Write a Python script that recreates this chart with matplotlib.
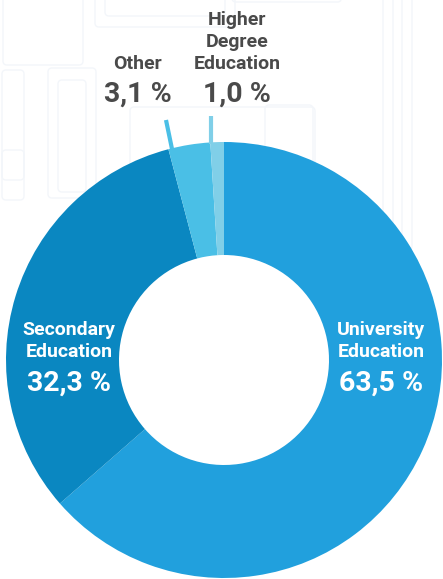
import matplotlib
matplotlib.use("Agg")
import matplotlib.pyplot as plt
from matplotlib.patches import FancyBboxPatch

# Share of graduates by level of education (%)
categories = ["University\nEducation", "Secondary\nEducation", "Other", "Higher\nDegree\nEducation"]
shares = [63.5, 32.3, 3.1, 1.0]
colors = ["#21a0dd", "#0a87c1", "#4abfe6", "#80cfe8"]

plt.rcParams["font.family"] = ["Roboto", "DejaVu Sans"]

fig = plt.figure(figsize=(4.43, 5.79), dpi=100)
ax = fig.add_axes([0, 0, 1, 1])

# faint circuit-like outlines in the background
bg = "#f3f6fa"
for x, y, w, h in [(3, -10, 80, 75), (95, -10, 140, 37), (105, -10, 120, 26),
                   (232, -10, 110, 12), (2, 70, 22, 110), (48, 68, 48, 130),
                   (58, 80, 28, 112), (130, 107, 185, 120), (383, -10, 10, 260),
                   (402, -10, 10, 260), (265, 105, 48, 60), (2, 150, 22, 50)]:
    ax.add_patch(FancyBboxPatch((x, y), w, h, boxstyle="round,pad=0,rounding_size=4",
                                fill=False, ec=bg, lw=1.0, zorder=0))

cx, cy, r_out, r_in = 224, 360, 218, 105
# y axis is flipped, so counterclock here runs clockwise on screen
ax.pie(shares, colors=colors, center=(cx, cy), radius=r_out,
       startangle=-90, counterclock=True,
       wedgeprops=dict(width=r_out - r_in, linewidth=0))
ax.set_xlim(0, 443)
ax.set_ylim(579, 0)
ax.set_aspect("equal")
ax.axis("off")


def fmt(v):
    return f"{v:.1f}".replace(".", ",") + " %"


def label(x, y_last, idx, color, step=22):
    lines = categories[idx].split("\n")
    for j, line in enumerate(lines):
        ax.text(x, y_last - step * (len(lines) - 1 - j), line, ha="center",
                va="baseline", color=color, fontsize=14, fontweight="bold")


# labels inside the ring
for idx, x in [(0, 381), (1, 69)]:
    label(x, 357, idx, "white")
    ax.text(x, 391, fmt(shares[idx]), ha="center", va="baseline", color="white",
            fontsize=20.5, fontweight="bold")

# small slices: labels above the ring with short leader lines
grey = "#4a4a4a"
label(138, 69, 2, grey)
ax.text(138, 102, fmt(shares[2]), ha="center", va="baseline", color=grey,
        fontsize=20.5, fontweight="bold")
label(237, 69, 3, grey)
ax.text(237, 102, fmt(shares[3]), ha="center", va="baseline", color=grey,
        fontsize=20.5, fontweight="bold")

ax.plot([166, 172], [120, 149], color=colors[2], lw=3, solid_capstyle="butt")
ax.plot([211, 211], [116, 144], color=colors[3], lw=3, solid_capstyle="butt")

fig.savefig("out.png", dpi=100)
